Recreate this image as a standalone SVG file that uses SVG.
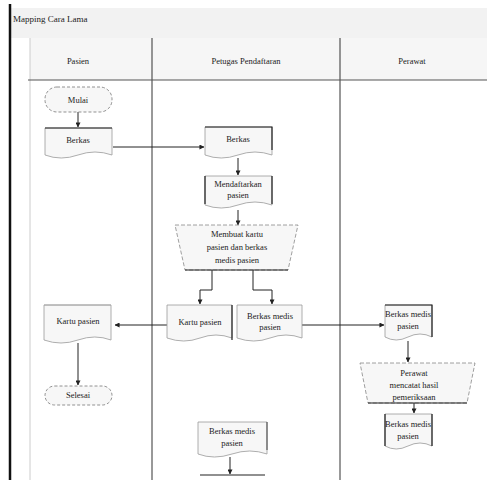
<svg xmlns="http://www.w3.org/2000/svg" width="487" height="480" viewBox="0 0 487 480">
<style>
text{font-family:"Liberation Serif","Times New Roman",serif;font-size:8.5px;fill:#222;text-anchor:middle}
.t{text-anchor:start;font-size:9px}
.lane{stroke:#333;stroke-width:1;fill:none}
.doc{fill:#f7f7f7;stroke:#999;stroke-width:0.8}
.docd{fill:none;stroke:#222;stroke-width:1.2}
.term{fill:#f7f7f7;stroke:#777;stroke-width:0.8;stroke-dasharray:3 2}
.trap{fill:#f7f7f7;stroke:#888;stroke-width:0.8;stroke-dasharray:4 2}
.c{stroke:#222;stroke-width:1;fill:none;marker-end:url(#a)}
</style>
<defs>
<marker id="a" viewBox="0 0 6 6" refX="5.5" refY="3" markerWidth="5" markerHeight="5" orient="auto"><path d="M0,0 L6,3 L0,6 z" fill="#222"/></marker>
</defs>
<rect width="487" height="480" fill="#fff"/>
<rect x="11" y="8" width="476" height="30" fill="#f2f2f2"/>
<rect x="30" y="38" width="457" height="42" fill="#f6f6f6"/>
<line x1="10" y1="4" x2="10" y2="480" stroke="#111" stroke-width="2.5"/>
<text class="t" x="13" y="22">Mapping Cara Lama</text>
<g id="lanes">
<line class="lane" x1="30" y1="38" x2="30" y2="480" stroke="#ccc" style="stroke:#ccc"/>
<line class="lane" x1="152" y1="38" x2="152" y2="480"/>
<line class="lane" x1="340" y1="38" x2="340" y2="480"/>
<line class="lane" x1="28" y1="80" x2="487" y2="80" style="stroke:#555"/>
<text x="78" y="64">Pasien</text>
<text x="246" y="64">Petugas Pendaftaran</text>
<text x="412" y="64">Perawat</text>
</g>
<g id="connectors">
<path class="c" d="M78,112 V127"/>
<path class="c" d="M113,147 H204"/>
<path class="c" d="M238,158 V175"/>
<path class="c" d="M238,210 V225"/>
<path class="c" d="M212,270 V290 H200 V304"/>
<path class="c" d="M253,270 V290 H272 V304"/>
<path class="c" d="M167,325 H115"/>
<path class="c" d="M78,343 V385"/>
<path class="c" d="M302,325 H384"/>
<path class="c" d="M408,341 V362"/>
<path class="c" d="M414,403 V413"/>
<path class="c" d="M230,457 V474"/>
</g>
<g id="mulai"><rect class="term" x="45" y="87" width="67" height="25" rx="12"/><text x="78" y="103">Mulai</text></g>
<g id="berkas1"><path class="doc" d="M45,128 H112 V155 Q95,149 78,155 T45,155 Z"/><line x1="45" y1="128" x2="112" y2="128" stroke="#222" stroke-width="1.2"/><text x="78" y="143">Berkas</text></g>
<g id="berkas2"><path class="doc" d="M205,127 H272 V155 Q255,149 238,155 T205,155 Z"/><path class="docd" d="M205,127 H272 V150"/><text x="238" y="142">Berkas</text></g>
<g id="mendaftarkan"><path class="doc" d="M205,176 H272 V205 Q255,199 238,205 T205,205 Z"/><path class="docd" d="M205,176 V204 M272,176 V204"/><text x="238" y="187">Mendaftarkan</text><text x="238" y="198">pasien</text></g>
<g id="membuat"><path class="trap" d="M175,225 H298 L288,270 H185 Z"/><line x1="185" y1="270" x2="288" y2="270" stroke="#222" stroke-width="1.2"/><text x="237" y="237">Membuat kartu</text><text x="237" y="250">pasien dan berkas</text><text x="237" y="263">medis pasien</text></g>
<g id="kartu2"><path class="doc" d="M167,305 H232 V338 Q216,332 200,338 T167,338 Z"/><line x1="232" y1="305" x2="232" y2="340" stroke="#222" stroke-width="1.2"/><text x="200" y="325">Kartu pasien</text></g>
<g id="berkasmedis2"><path class="doc" d="M237,305 H302 V338 Q286,332 270,338 T237,338 Z"/><text x="270" y="319">Berkas medis</text><text x="270" y="330">pasien</text></g>
<g id="kartu1"><path class="doc" d="M44,305 H111 V340 Q95,334 78,340 T44,340 Z"/><line x1="44" y1="305" x2="111" y2="305" stroke="#aaa"/><text x="78" y="324">Kartu pasien</text></g>
<g id="selesai"><rect class="term" x="45" y="386" width="67" height="19" rx="9.5"/><text x="78" y="398">Selesai</text></g>
<g id="berkasmedis3"><path class="doc" d="M385,305 H432 V337 Q420,331 408,337 T385,337 Z"/><path class="docd" d="M385,305 H432 V337"/><text x="408" y="317">Berkas medis</text><text x="408" y="329">pasien</text></g>
<g id="pemeriksaan"><path class="trap" d="M360,363 H475 L467,403 H368 Z"/><line x1="368" y1="403" x2="467" y2="403" stroke="#222" stroke-width="1.2"/><text x="414" y="376">Perawat</text><text x="414" y="388">mencatat hasil</text><text x="414" y="400">pemeriksaan</text></g>
<g id="berkasmedis4"><path class="doc" d="M385,414 H432 V446 Q420,440 408,446 T385,446 Z"/><path class="docd" d="M385,414 V446 M432,414 V446"/><text x="408" y="427">Berkas medis</text><text x="408" y="439">pasien</text></g>
<g id="berkasmedis5"><path class="doc" d="M198,422 H267 V454 Q250,448 232,454 T198,454 Z"/><line x1="267" y1="422" x2="267" y2="450" stroke="#444"/><text x="232" y="434">Berkas medis</text><text x="232" y="446">pasien</text></g>
<g id="next"><line x1="200" y1="475" x2="265" y2="475" stroke="#222" stroke-width="1.2"/></g>
</svg>
